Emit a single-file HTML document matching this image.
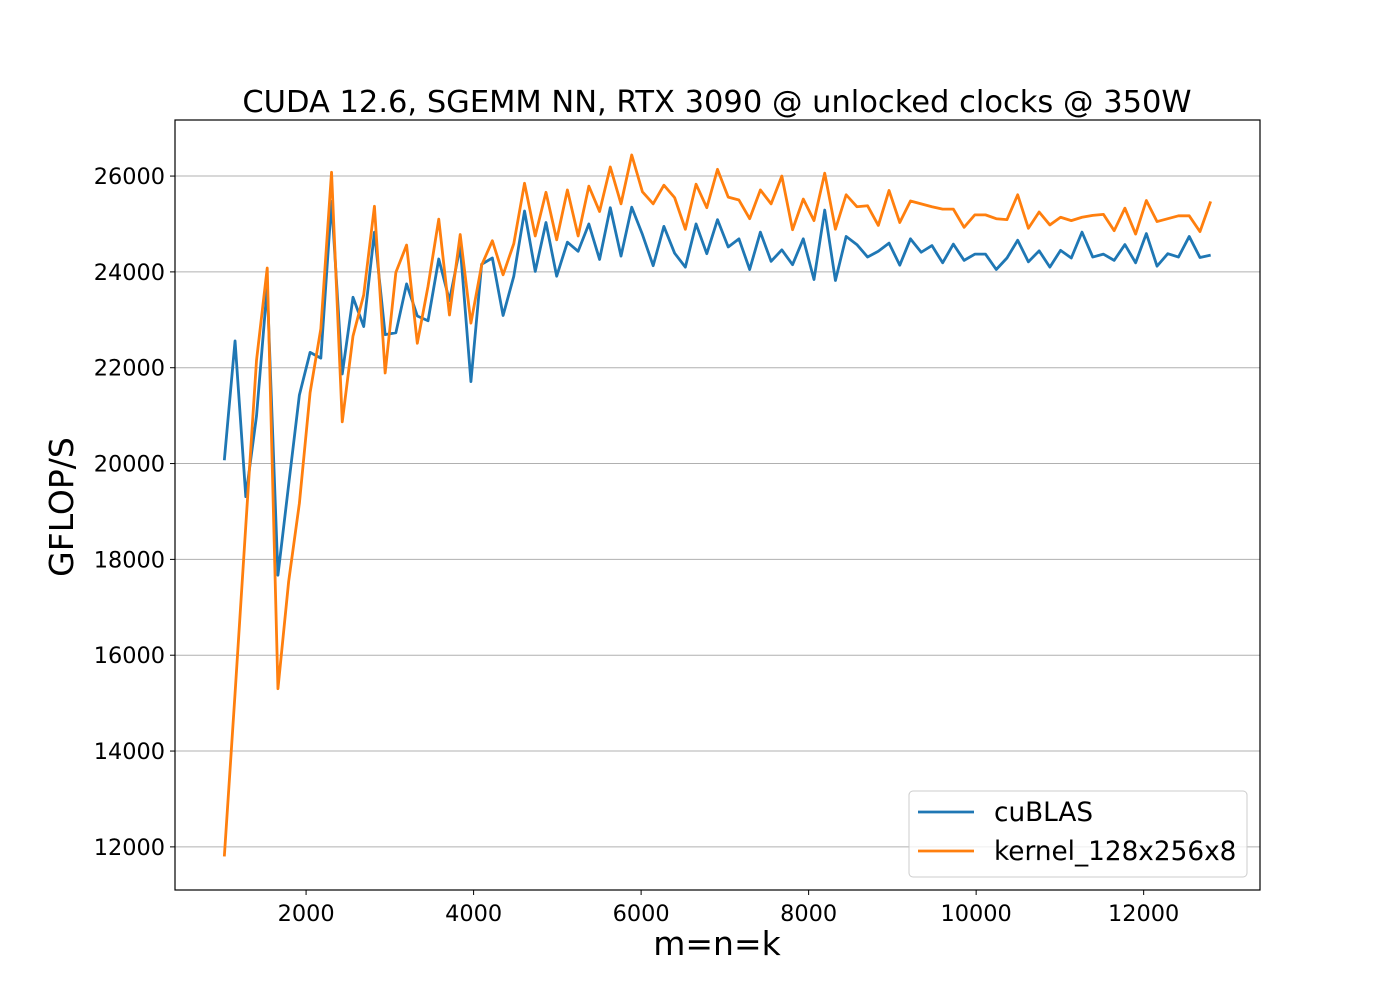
<!DOCTYPE html>
<html><head><meta charset="utf-8"><style>
body{margin:0;background:#fff;}
svg text{font-family:"DejaVu Sans","Liberation Sans",sans-serif;fill:#000;}
</style></head><body>
<svg id="chart" width="1400" height="1000" xmlns="http://www.w3.org/2000/svg">
<rect width="1400" height="1000" fill="#fff"/>
<g id="grid"></g>
<g id="series"></g>
<g id="axes"></g>
</svg>
<script>
const blueVals = [20070,22560,19310,20990,23700,17670,19560,21430,22320,22200,25470,21870,23470,22860,24830,22690,22730,23750,23080,22980,24270,23400,24530,21710,24160,24290,23090,23910,25270,24010,25030,23910,24620,24430,25000,24260,25340,24330,25350,24780,24130,24950,24390,24100,25000,24380,25090,24520,24690,24050,24830,24220,24460,24150,24690,23840,25290,23820,24740,24570,24310,24430,24600,24140,24690,24410,24550,24190,24580,24240,24370,24370,24050,24290,24660,24210,24440,24100,24450,24290,24830,24310,24370,24240,24570,24190,24800,24120,24380,24310,24740,24300,24350];
const orangeVals = [11800,15200,18700,22150,24080,15300,17540,19170,21480,22810,26080,20870,22660,23520,25370,21890,23990,24560,22510,23700,25100,23100,24780,22930,24140,24650,23940,24590,25850,24750,25660,24670,25710,24750,25790,25260,26190,25420,26440,25670,25420,25810,25550,24890,25830,25340,26140,25560,25500,25110,25710,25420,26000,24880,25520,25070,26060,24890,25610,25360,25380,24970,25700,25030,25480,25420,25360,25310,25310,24930,25190,25190,25110,25090,25610,24910,25250,24980,25140,25070,25140,25180,25200,24860,25330,24790,25490,25050,25110,25170,25170,24840,25470];
const sizeStart = 1024, sizeStep = 128;
const xTicks = [2000,4000,6000,8000,10000,12000];
const yTicks = [12000,14000,16000,18000,20000,22000,24000,26000];
const NS="http://www.w3.org/2000/svg";
const L=175,R=1260,T=120,B=890;
const xMin=435,xMax=13389,yMin=11100,yMax=27170;
const xs=v=>L+(v-xMin)/(xMax-xMin)*(R-L);
const ys=v=>B-(v-yMin)/(yMax-yMin)*(B-T);
function mk(tag,attrs,parent){const e=document.createElementNS(NS,tag);for(const k in attrs)e.setAttribute(k,attrs[k]);parent.appendChild(e);return e;}
const grid=document.getElementById('grid'),series=document.getElementById('series'),axes=document.getElementById('axes');
yTicks.forEach(t=>{
  const y=ys(t);
  const g=mk('line',{x1:L,x2:R,y1:y,y2:y,stroke:'#b0b0b0','stroke-width':1},grid);
  
  
  const tk=mk('line',{x1:L-5,x2:L,y1:y,y2:y,stroke:'#000','stroke-width':1},axes);
  
  
  const tx=mk('text',{x:L-10,y:y+8,'text-anchor':'end','font-size':22.4},axes);
  tx.textContent=t;
  
  
});
xTicks.forEach(t=>{
  const x=xs(t);
  const tk=mk('line',{x1:x,x2:x,y1:B,y2:B+5,stroke:'#000','stroke-width':1},axes);
  
  
  const tx=mk('text',{x:x,y:B+31,'text-anchor':'middle','font-size':22.4},axes);
  tx.textContent=t;
  
  
});
function drawLine(vals,color,name){
  const pts=vals.map((v,i)=>xs(sizeStart+i*sizeStep).toFixed(2)+','+ys(v).toFixed(2)).join(' ');
  const p=mk('polyline',{points:pts,fill:'none',stroke:color,'stroke-width':2.8,'stroke-linejoin':'round'},series);
  
  
}
drawLine(blueVals,'#1f77b4','cublas-line');
drawLine(orangeVals,'#ff7f0e','kernel-line');
const frame=mk('rect',{x:L,y:T,width:R-L,height:B-T,fill:'none',stroke:'#000','stroke-width':1.2},axes);


</script>
<svg style="position:absolute;left:0;top:0" width="1400" height="1000" xmlns="http://www.w3.org/2000/svg">
<text x="717" y="112" text-anchor="middle" font-size="30.5">CUDA 12.6, SGEMM NN, RTX 3090 @ unlocked clocks @ 350W</text>
<text x="717" y="955" text-anchor="middle" font-size="33">m=n=k</text>
<text x="73" y="507" text-anchor="middle" font-size="33" transform="rotate(-90 73 507)">GFLOP/S</text>
<g>
<rect x="909" y="791" width="338" height="86" rx="4" fill="#fff" fill-opacity="0.8" stroke="#ccc" stroke-width="1"/>
<line x1="918" x2="974" y1="812" y2="812" stroke="#1f77b4" stroke-width="2.8"/>
<text x="994" y="821" font-size="26.3">cuBLAS</text>
<line x1="918" x2="974" y1="851" y2="851" stroke="#ff7f0e" stroke-width="2.8"/>
<text x="994" y="860" font-size="26.3">kernel_128x256x8</text>
</g>
</svg>
</body></html>
